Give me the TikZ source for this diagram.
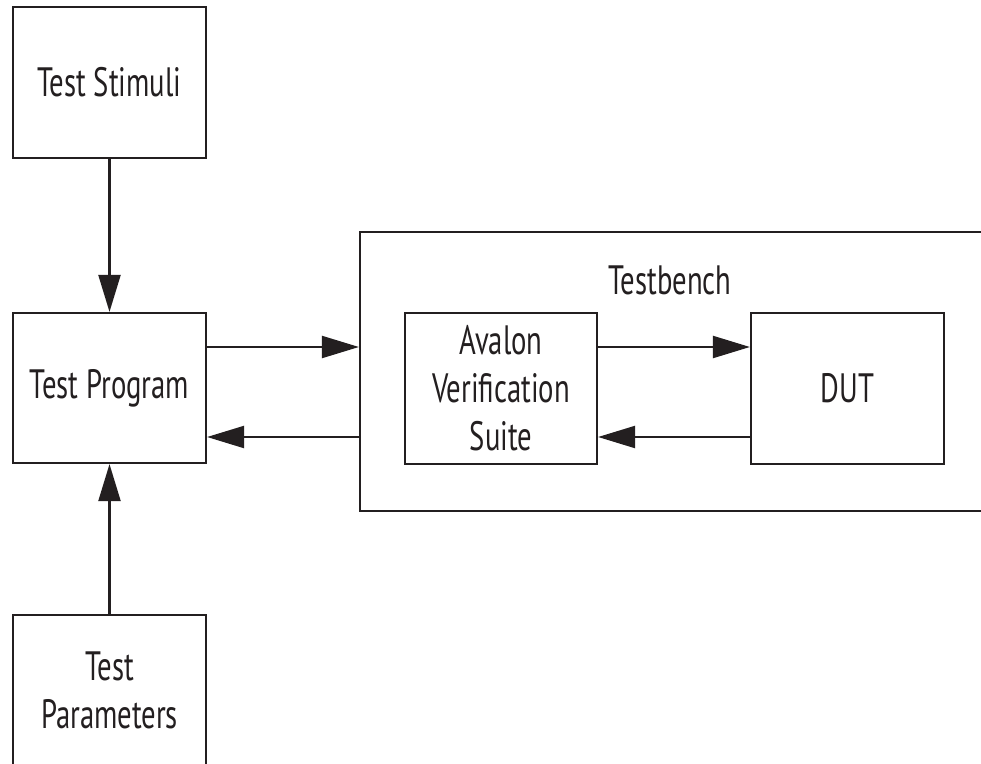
\documentclass[tikz,border=0pt]{standalone}
\usepackage{fontspec}
\setmainfont{PT Sans}[FakeStretch=0.7]
\usetikzlibrary{arrows.meta}
\definecolor{ink}{RGB}{35,31,32}
\tikzset{
  blk/.style={draw=ink, line width=2.2bp, minimum width=193bp, minimum height=151bp,
    inner sep=0pt, align=center, text=ink, font=\fontsize{41bp}{48bp}\selectfont},
  arr/.style={draw=ink, line width=2.2bp, -{Triangle[length=37bp,width=22bp]}},
  lbl/.style={inner sep=0pt, text=ink, font=\fontsize{41bp}{48bp}\selectfont}
}
\begin{document}
\begin{tikzpicture}[x=1bp,y=-1bp]
\path[use as bounding box, clip] (0,0) rectangle (981,764);
\fill[white] (0,0) rectangle (981,764);
\node[blk] (ts) at (109.5,82.5) {Test Stimuli};
\node[blk, minimum height=150bp] (tp) at (109.5,388) {Test Program};
\node[blk] (tpar) at (109.5,690.5) {Test\\Parameters};
\node[blk, minimum width=640bp, minimum height=279bp] (tb) at (680,371.5) {};
\node[lbl] (tbl) at (670,280) {Testbench};
\node[blk, minimum width=192bp] (avs) at (501,388.5) {Avalon\\Verification\\Suite};
\node[blk] (dut) at (847.5,388.5) {DUT};
\coordinate (r1) at (0,347);
\coordinate (r2) at (0,437);
\draw[arr] (ts.south) -- (tp.north);
\draw[arr] (tpar.north) -- (tp.south);
\draw[arr] (tp.east |- r1) -- (tb.west |- r1);
\draw[arr] (tb.west |- r2) -- (tp.east |- r2);
\draw[arr] (avs.east |- r1) -- (dut.west |- r1);
\draw[arr] (dut.west |- r2) -- (avs.east |- r2);
\end{tikzpicture}
\end{document}
